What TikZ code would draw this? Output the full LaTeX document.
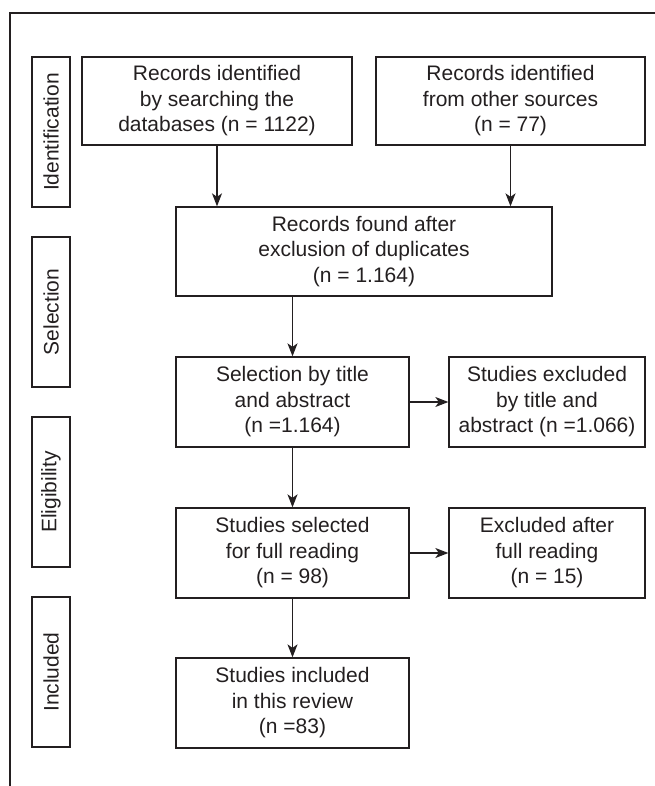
\documentclass[tikz,border=0pt]{standalone}
\usepackage{fontspec}
\setmainfont{Liberation Sans}
\usetikzlibrary{arrows.meta}
\definecolor{ink}{HTML}{231F20}
\begin{document}
\begin{tikzpicture}[x=1pt,y=-1pt,
  box/.style={draw=ink,line width=1.3pt,text=ink,align=center,inner sep=0pt,
    font=\fontsize{21}{25.5}\selectfont},
  stage/.style={draw=ink,line width=1.3pt,text=ink,inner sep=0pt,rotate=90,
    minimum width=150pt,minimum height=38pt,font=\fontsize{21}{25.5}\selectfont},
  arr/.style={draw=ink,line width=1.3pt,-{Stealth[length=13pt,width=10pt,inset=3.5pt]}},
  frameline/.style={draw=ink,line width=1.3pt}]
\useasboundingbox (0,0) rectangle (655,786);
% frame
\coordinate (fa) at (10,786);
\coordinate (fb) at (10,13);
\coordinate (fc) at (655,13);
\draw[frameline] (fa) -- (fb) -- (fc);
% stage labels
\node[stage] (lid) at (51,132) {Identification};
\node[stage] (lsel) at (51,312) {Selection};
\node[stage] (lel) at (51,492) {Eligibility};
\node[stage] (lin) at (51,672) {Included};
% boxes
\node[box,minimum width=270pt,minimum height=88pt] (tl) at (217,101)
  {Records identified\\by searching the\\databases (n = 1122)};
\node[box,minimum width=269pt,minimum height=88pt] (tr) at (510.5,101)
  {Records identified\\from other sources\\(n = 77)};
\node[box,minimum width=376pt,minimum height=89pt] (mid) at (364,251.5)
  {Records found after\\exclusion of duplicates\\(n = 1.164)};
\node[box,minimum width=233pt,minimum height=90pt] (sel) at (292.5,402)
  {Selection by title\\and abstract\\(n =1.164)};
\node[box,minimum width=196pt,minimum height=90pt] (ex1) at (547,402)
  {Studies excluded\\by title and\\abstract (n =1.066)};
\node[box,minimum width=233pt,minimum height=90pt] (full) at (292.5,553)
  {Studies selected\\for full reading\\(n = 98)};
\node[box,minimum width=196pt,minimum height=90pt] (ex2) at (547,553)
  {Excluded after\\full reading\\(n = 15)};
\node[box,minimum width=233pt,minimum height=90pt] (inc) at (292.5,703)
  {Studies included\\in this review\\(n =83)};
% connectors
\draw[arr] (tl.south) -- (tl.south |- mid.north);
\draw[arr] (tr.south) -- (tr.south |- mid.north);
\draw[arr] (sel.north |- mid.south) -- (sel.north);
\draw[arr] (sel.east) -- (ex1.west);
\draw[arr] (sel.south) -- (full.north);
\draw[arr] (full.east) -- (ex2.west);
\draw[arr] (full.south) -- (inc.north);
\end{tikzpicture}
\end{document}
